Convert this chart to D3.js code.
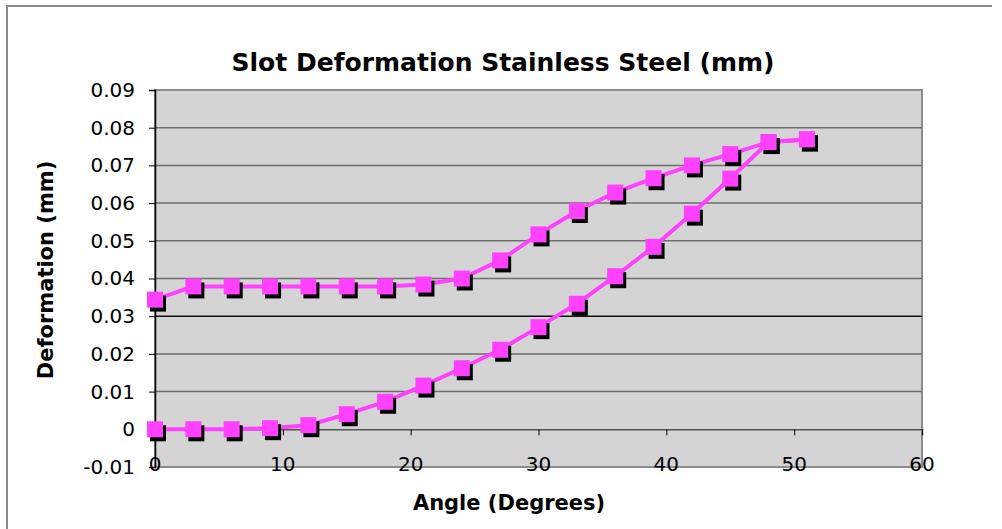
<!DOCTYPE html>
<html>
<head>
<meta charset="utf-8">
<script src="https://cdn.jsdelivr.net/npm/d3@7"></script>
<style>
body { margin: 0; background: #fff; }
text { font-family: "DejaVu Sans", Verdana, sans-serif; fill: #000; }
</style>
</head>
<body>
<svg id="chart" width="1002" height="529"></svg>
<script>
// data
var angles = [0, 3, 6, 9, 12, 15, 18, 21, 24, 27, 30, 33, 36, 39, 42, 45, 48, 51];
var loading = [0, 0, 0, 0.0003, 0.0011, 0.004, 0.0073, 0.0116, 0.0162, 0.0211, 0.0271, 0.0333, 0.0406, 0.0484, 0.0572, 0.0665, 0.0762, 0.0769];
var unloading = [0.0344, 0.0379, 0.0379, 0.0379, 0.0379, 0.0379, 0.0379, 0.0384, 0.0400, 0.0448, 0.0517, 0.0579, 0.0628, 0.0666, 0.0700, 0.0730, 0.0762, 0.0769];
var yTicks = [-0.01, 0, 0.01, 0.02, 0.03, 0.04, 0.05, 0.06, 0.07, 0.08, 0.09];
var xTicks = [0, 10, 20, 30, 40, 50, 60];

var pink = "#ff40ff";
var svg = d3.select("#chart");

// plot area box (don't call it "top", that's window.top)
var plotL = 155, plotR = 922, plotT = 90, plotB = 467;
var x = d3.scaleLinear().domain([0, 60]).range([plotL, plotR]);
var y = d3.scaleLinear().domain([-0.01, 0.09]).range([plotB, plotT]);

// outer chart frame (only top and left visible)
svg.append("path")
    .attr("d", "M7,529V6H992")
    .attr("fill", "none")
    .attr("stroke", "#8a8a8a")
    .attr("stroke-width", 2);

// plot area
svg.append("rect")
    .attr("x", plotL).attr("y", plotT)
    .attr("width", plotR - plotL).attr("height", plotB - plotT)
    .attr("fill", "#d4d4d4")
    .attr("stroke", "#8c8c8c")
    .attr("stroke-width", 2);

// gridlines
svg.append("g").selectAll("line")
    .data(yTicks.filter(d => d > -0.01 && d < 0.09 && Math.abs(d) > 1e-9))
    .enter().append("line")
    .attr("x1", plotL).attr("x2", plotR)
    .attr("y1", d => y(d)).attr("y2", d => y(d))
    .attr("stroke", d => Math.abs(d - 0.03) < 1e-9 ? "#111" : "#6e6e6e")
    .attr("stroke-width", 1.5);

// x axis at y = 0
var xAxis = d3.axisBottom(x).tickValues(xTicks).tickSize(6).tickFormat("");
var gx = svg.append("g").attr("transform", "translate(0," + y(0) + ")").call(xAxis);
gx.select(".domain").attr("stroke", "#555").attr("stroke-width", 1.5);
gx.selectAll(".tick line").attr("stroke", "#000");

// x labels sit down on the bottom edge of the plot
svg.append("g").selectAll("text")
    .data(xTicks)
    .enter().append("text")
    .attr("x", d => x(d))
    .attr("y", plotB + 4)
    .attr("text-anchor", "middle")
    .style("font-size", "20px")
    .text(d => d);

// y axis, plain hyphen for the minus like the original
var yAxis = d3.axisLeft(y).tickValues(yTicks).tickSize(6).tickPadding(14)
    .tickFormat(d => Math.abs(d) < 1e-9 ? "0" : d3.format(".2f")(d).replace("\u2212", "-"));
var gy = svg.append("g").attr("transform", "translate(" + plotL + ",0)").call(yAxis);
gy.select(".domain").attr("stroke", "#000").attr("stroke-width", 1.5);
gy.selectAll(".tick line").attr("stroke", "#000");
gy.selectAll(".tick text")
    .style("font-size", "20px")
    .style("font-family", "'DejaVu Sans', Verdana, sans-serif")
    .attr("fill", "#000");

// series
var series = [loading, unloading];
var line = d3.line().x((d, i) => x(angles[i])).y(d => y(d));

svg.append("g").selectAll("path")
    .data(series)
    .enter().append("path")
    .attr("d", line)
    .attr("fill", "none")
    .attr("stroke", pink)
    .attr("stroke-width", 4)
    .attr("stroke-linejoin", "round");

var ms = 16;
series.forEach(function(s) {
    var g = svg.append("g");
    g.selectAll("rect.shadow")
        .data(s)
        .enter().append("rect")
        .attr("class", "shadow")
        .attr("x", (d, i) => x(angles[i]) - ms / 2 + 3)
        .attr("y", d => y(d) - ms / 2 + 4)
        .attr("width", ms).attr("height", ms)
        .attr("fill", "#000");
    g.selectAll("rect.mark")
        .data(s)
        .enter().append("rect")
        .attr("class", "mark")
        .attr("x", (d, i) => x(angles[i]) - ms / 2)
        .attr("y", d => y(d) - ms / 2)
        .attr("width", ms).attr("height", ms)
        .attr("fill", pink);
});

// titles
svg.append("text")
    .attr("x", 503).attr("y", 71)
    .attr("text-anchor", "middle")
    .style("font-size", "25px").style("font-weight", "bold")
    .text("Slot Deformation Stainless Steel (mm)");

svg.append("text")
    .attr("x", 509).attr("y", 510)
    .attr("text-anchor", "middle")
    .style("font-size", "21px").style("font-weight", "bold")
    .text("Angle (Degrees)");

svg.append("text")
    .attr("transform", "translate(53,270) rotate(-90)")
    .attr("text-anchor", "middle")
    .style("font-size", "21px").style("font-weight", "bold")
    .text("Deformation (mm)");
</script>
</body>
</html>
